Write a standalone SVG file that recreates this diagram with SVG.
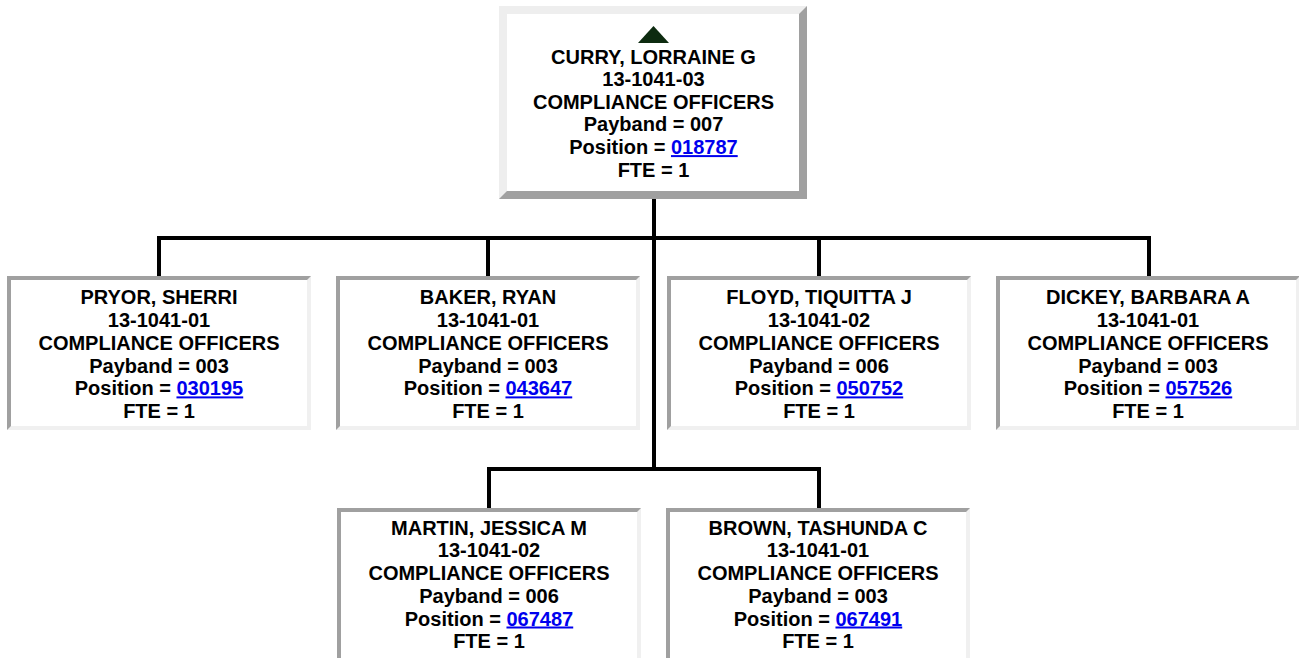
<svg xmlns="http://www.w3.org/2000/svg" xmlns:xlink="http://www.w3.org/1999/xlink" width="1299" height="658" viewBox="0 0 1299 658">
<style>
.t{font-family:"Liberation Sans",Arial,Helvetica,sans-serif;font-weight:bold;font-size:20px;fill:#000;text-anchor:middle}
.lk{fill:#0000ee;text-decoration:underline}
.ln{stroke:#000;stroke-width:4;fill:none;stroke-linecap:butt}
</style>
<defs>
<g id="childbox">
<rect x="0" y="0" width="304" height="154" fill="#f0f0f0"/>
<polygon points="0,0 304,0 300,4 4,4 4,150 0,154" fill="#a0a0a0"/>
<rect x="4" y="4" width="296" height="146" fill="#fff"/>
</g>
</defs>
<rect width="1299" height="658" fill="#fff"/>
<g id="connectors">
<line class="ln" x1="654" y1="199" x2="654" y2="471"/>
<line class="ln" x1="157" y1="238" x2="1151" y2="238"/>
<line class="ln" x1="159" y1="236" x2="159" y2="276"/>
<line class="ln" x1="488" y1="236" x2="488" y2="276"/>
<line class="ln" x1="819" y1="236" x2="819" y2="276"/>
<line class="ln" x1="1149" y1="236" x2="1149" y2="276"/>
<line class="ln" x1="487" y1="469" x2="821" y2="469"/>
<line class="ln" x1="489" y1="467" x2="489" y2="508"/>
<line class="ln" x1="819" y1="467" x2="819" y2="508"/>
</g>
<g id="n-curry">
<rect x="499" y="6" width="308" height="193" fill="#a0a0a0"/>
<polygon points="499,6 807,6 799,14 507,14 507,191 499,199" fill="#eeeeee"/>
<rect x="507" y="14" width="292" height="177" fill="#fff"/>
<polygon points="653.5,26 638,43 669,43" fill="#0d2b10"/>
<text class="t" x="653.5" y="63.5">CURRY, LORRAINE G<tspan x="653.5" dy="22.65">13-1041-03</tspan><tspan x="653.5" dy="22.65">COMPLIANCE OFFICERS</tspan><tspan x="653.5" dy="22.65">Payband = 007</tspan><tspan x="653.5" dy="22.65">Position = <tspan class="lk">018787</tspan></tspan><tspan x="653.5" dy="22.65">FTE = 1</tspan></text>
</g>
<g id="n-pryor">
<use xlink:href="#childbox" href="#childbox" transform="translate(7,276)"/>
<text class="t" x="159" y="304">PRYOR, SHERRI<tspan x="159" dy="22.85">13-1041-01</tspan><tspan x="159" dy="22.85">COMPLIANCE OFFICERS</tspan><tspan x="159" dy="22.85">Payband = 003</tspan><tspan x="159" dy="22.85">Position = <tspan class="lk">030195</tspan></tspan><tspan x="159" dy="22.85">FTE = 1</tspan></text>
</g>
<g id="n-baker">
<use xlink:href="#childbox" href="#childbox" transform="translate(336,276)"/>
<text class="t" x="488" y="304">BAKER, RYAN<tspan x="488" dy="22.85">13-1041-01</tspan><tspan x="488" dy="22.85">COMPLIANCE OFFICERS</tspan><tspan x="488" dy="22.85">Payband = 003</tspan><tspan x="488" dy="22.85">Position = <tspan class="lk">043647</tspan></tspan><tspan x="488" dy="22.85">FTE = 1</tspan></text>
</g>
<g id="n-floyd">
<use xlink:href="#childbox" href="#childbox" transform="translate(667,276)"/>
<text class="t" x="819" y="304">FLOYD, TIQUITTA J<tspan x="819" dy="22.85">13-1041-02</tspan><tspan x="819" dy="22.85">COMPLIANCE OFFICERS</tspan><tspan x="819" dy="22.85">Payband = 006</tspan><tspan x="819" dy="22.85">Position = <tspan class="lk">050752</tspan></tspan><tspan x="819" dy="22.85">FTE = 1</tspan></text>
</g>
<g id="n-dickey">
<use xlink:href="#childbox" href="#childbox" transform="translate(996,276)"/>
<text class="t" x="1148" y="304">DICKEY, BARBARA A<tspan x="1148" dy="22.85">13-1041-01</tspan><tspan x="1148" dy="22.85">COMPLIANCE OFFICERS</tspan><tspan x="1148" dy="22.85">Payband = 003</tspan><tspan x="1148" dy="22.85">Position = <tspan class="lk">057526</tspan></tspan><tspan x="1148" dy="22.85">FTE = 1</tspan></text>
</g>
<g id="n-martin">
<use xlink:href="#childbox" href="#childbox" transform="translate(337,508)"/>
<text class="t" x="489" y="534.5">MARTIN, JESSICA M<tspan x="489" dy="22.75">13-1041-02</tspan><tspan x="489" dy="22.75">COMPLIANCE OFFICERS</tspan><tspan x="489" dy="22.75">Payband = 006</tspan><tspan x="489" dy="22.75">Position = <tspan class="lk">067487</tspan></tspan><tspan x="489" dy="22.75">FTE = 1</tspan></text>
</g>
<g id="n-brown">
<use xlink:href="#childbox" href="#childbox" transform="translate(666,508)"/>
<text class="t" x="818" y="534.5">BROWN, TASHUNDA C<tspan x="818" dy="22.75">13-1041-01</tspan><tspan x="818" dy="22.75">COMPLIANCE OFFICERS</tspan><tspan x="818" dy="22.75">Payband = 003</tspan><tspan x="818" dy="22.75">Position = <tspan class="lk">067491</tspan></tspan><tspan x="818" dy="22.75">FTE = 1</tspan></text>
</g>
</svg>
